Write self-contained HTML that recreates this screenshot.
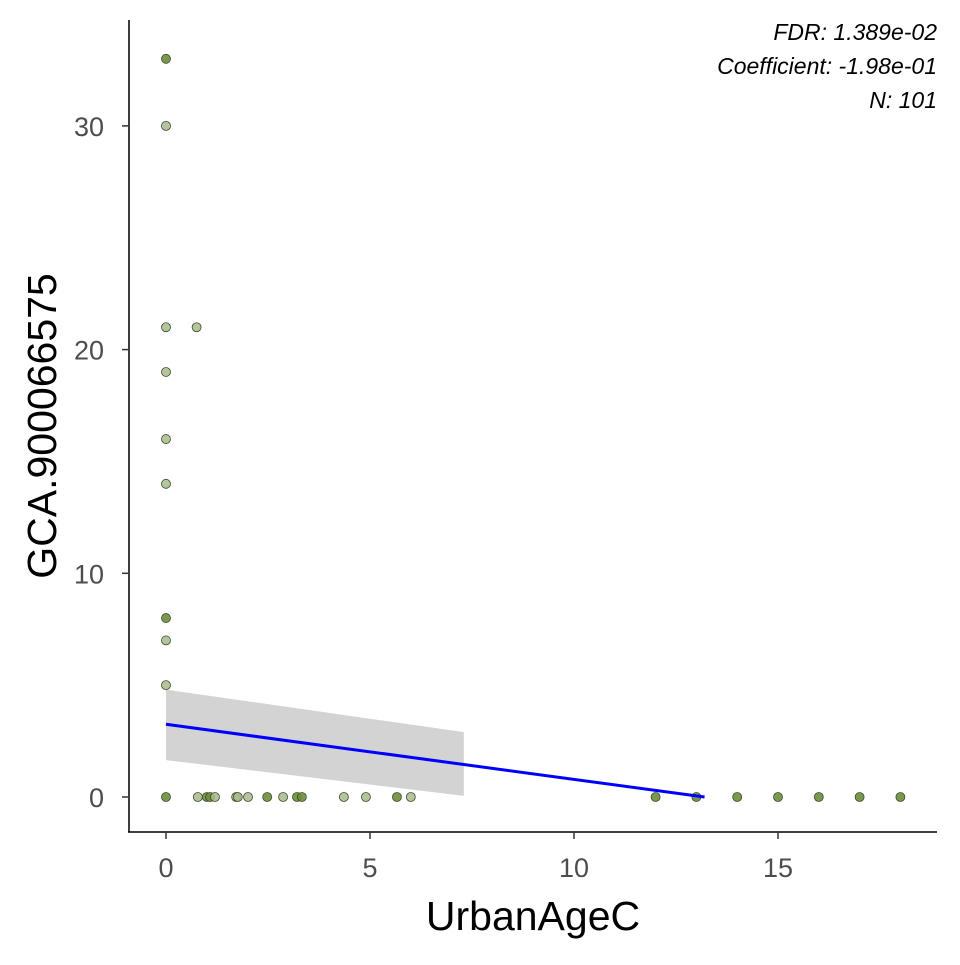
<!DOCTYPE html>
<html><head><meta charset="utf-8"><style>
body{margin:0;background:#fff}
svg text{font-family:"Liberation Sans",sans-serif}
</style></head><body>
<svg id="c" width="960" height="960">
<g id="band"></g><g id="pts"></g><g id="axes"></g>
<text x="937" y="40" text-anchor="end" font-size="23" font-style="italic">FDR: 1.389e-02</text>
<text x="937" y="74" text-anchor="end" font-size="23" font-style="italic">Coefficient: -1.98e-01</text>
<text x="937" y="108" text-anchor="end" font-size="23" font-style="italic">N: 101</text>
<text x="533" y="930" text-anchor="middle" font-size="41">UrbanAgeC</text>
<text transform="translate(56,426) rotate(-90)" text-anchor="middle" font-size="41">GCA.900066575</text>
</svg>
<script>
const xVals=[0,0,0,0,0,0,0,0,0,0.75,0,0.78,1.0,1.08,1.2,1.72,1.76,2.01,2.48,2.87,3.21,3.33,4.36,4.9,5.66,6.0,12,13,14,15,16,17,18];
const yVals=[33,30,21,19,16,14,8,7,5,21,0,0,0,0,0,0,0,0,0,0,0,0,0,0,0,0,0,0,0,0,0,0,0];
const dark=[1,0,0,0,0,0,1,0,0,0,1,0,1,1,0,0,0,0,1,0,1,1,0,0,1,0,1,1,1,1,1,1,1];
const bandX=[0,7.3];
const bandUpper=[4.8,2.9];
const bandLower=[1.65,0.05];
const fitX=[0,13.2];
const fitY=[3.25,0];
const xTicks=[0,5,10,15];
const yTicks=[0,10,20,30];
const sx=v=>166+v*40.8, sy=v=>797-v*22.37;
const NS="http://www.w3.org/2000/svg";
function mk(p,t,a){const e=document.createElementNS(NS,t);for(const k in a)e.setAttribute(k,a[k]);p.appendChild(e);return e;}
const band=document.getElementById('band');
const poly=mk(band,'polygon',{points:`${sx(bandX[0])},${sy(bandUpper[0])} ${sx(bandX[1])},${sy(bandUpper[1])} ${sx(bandX[1])},${sy(bandLower[1])} ${sx(bandX[0])},${sy(bandLower[0])}`,fill:'#d3d3d3'});


const pts=document.getElementById('pts');
xVals.forEach((x,i)=>{const c=mk(pts,'circle',{cx:sx(x),cy:sy(yVals[i]),r:4.5,fill:dark[i]?'#6b8e3a':'#a7bb8c',stroke:'#3a4a2a','stroke-width':0.8,'fill-opacity':dark[i]?0.9:0.85});

});
const ln=mk(pts,'line',{x1:sx(fitX[0]),y1:sy(fitY[0]),x2:sx(fitX[1]),y2:sy(fitY[1]),stroke:'#0000ff','stroke-width':3});


const ax=document.getElementById('axes');
mk(ax,'line',{x1:129,y1:20,x2:129,y2:832,stroke:'#000','stroke-width':1.5});
mk(ax,'line',{x1:128,y1:832,x2:937,y2:832,stroke:'#000','stroke-width':1.5});
xTicks.forEach(t=>{mk(ax,'line',{x1:sx(t),y1:832,x2:sx(t),y2:839,stroke:'#333','stroke-width':1.5});
const tx=mk(ax,'text',{x:sx(t),y:877,'text-anchor':'middle','font-size':27,fill:'#4d4d4d'});tx.textContent=t;

});
yTicks.forEach(t=>{mk(ax,'line',{x1:122,y1:sy(t),x2:129,y2:sy(t),stroke:'#333','stroke-width':1.5});
const tx=mk(ax,'text',{x:104,y:sy(t)+10,'text-anchor':'end','font-size':27,fill:'#4d4d4d'});tx.textContent=t;

});
</script>
</body></html>
